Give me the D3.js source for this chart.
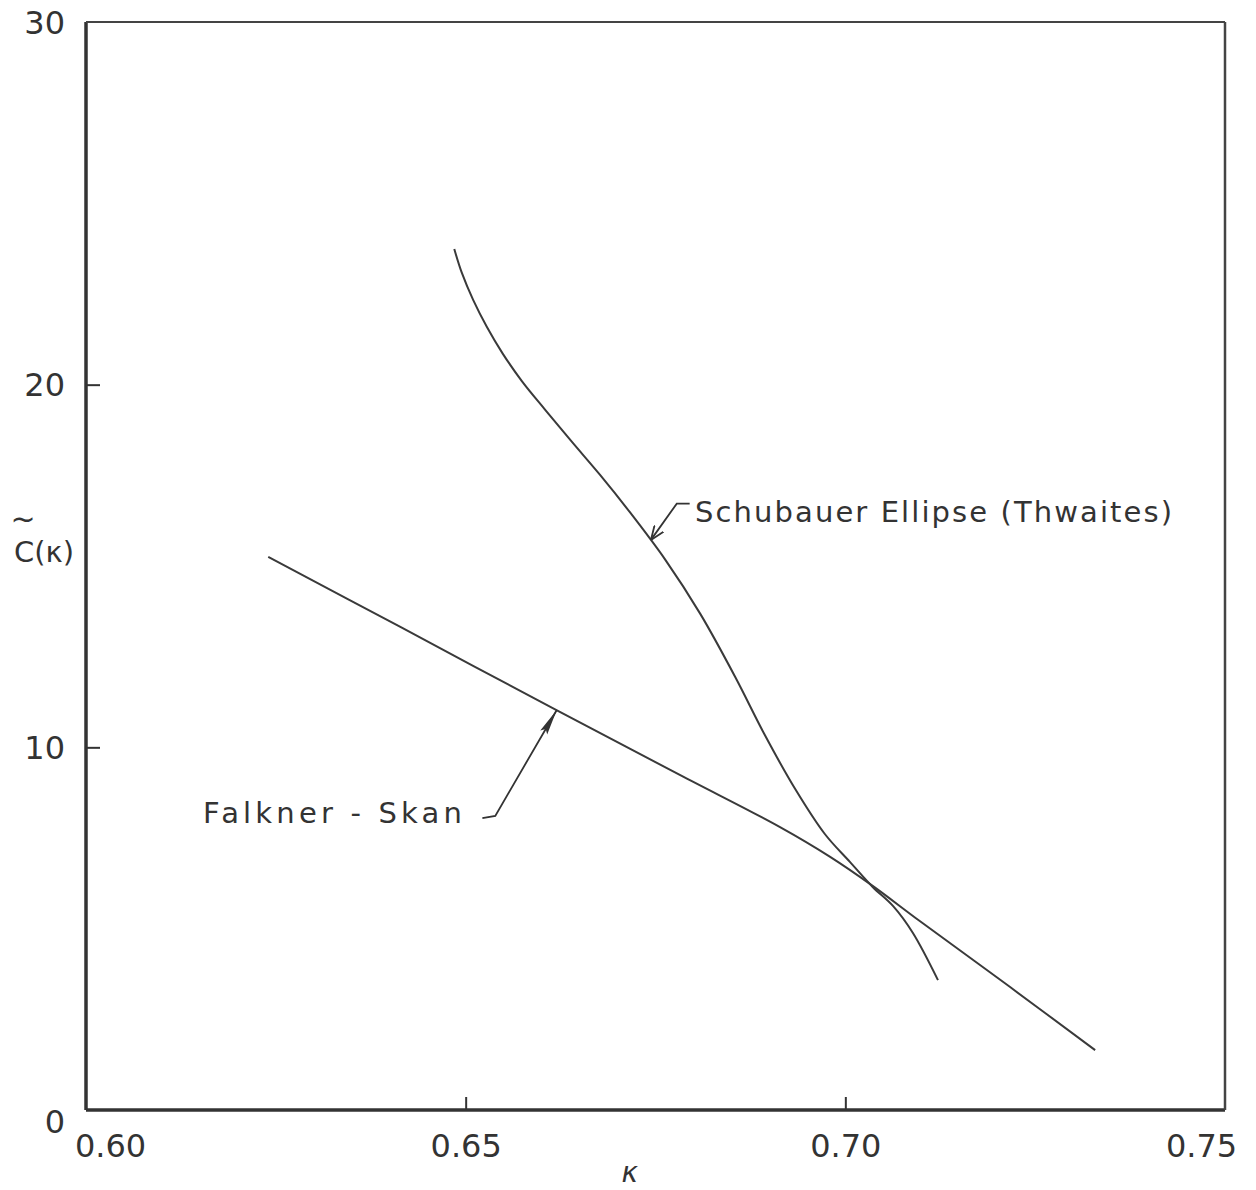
<!DOCTYPE html>
<html>
<head>
<meta charset="utf-8">
<script src="https://cdn.jsdelivr.net/npm/d3@7"></script>
<style>
  body { margin: 0; background: #fff; }
  text { font-family: "DejaVu Sans", sans-serif; fill: #333; }
</style>
</head>
<body>
<div id="chart"></div>
<script>
// axis ticks
let kappaTicks = [0.60, 0.65, 0.70, 0.75];
let cTicks = [0, 10, 20, 30];

// Falkner-Skan curve
let fsKappa = [0.6240, 0.6414, 0.6619, 0.6782, 0.6914, 0.6980, 0.7036, 0.7098, 0.7217, 0.7329];
let fsC     = [15.25, 13.32, 11.03, 9.24, 7.80, 6.98, 6.18, 5.21, 3.39, 1.65];

// Schubauer ellipse (Thwaites)
let seKappa = [0.6485, 0.6495, 0.6510, 0.6528, 0.6549, 0.6574, 0.6605, 0.6640, 0.6677, 0.6716,
               0.6763, 0.6809, 0.6855, 0.6894, 0.6934, 0.6973, 0.7006, 0.7036, 0.7063, 0.7089, 0.7122];
let seC     = [23.74, 23.08, 22.33, 21.59, 20.85, 20.10, 19.30, 18.42, 17.51, 16.49,
               15.17, 13.68, 11.94, 10.34, 8.85, 7.61, 6.84, 6.15, 5.62, 4.88, 3.58];

let drawChart = function(){
    let W = 1256, H = 1190;
    let margin = {top: 22, right: 31, bottom: 80, left: 86};
    let width = W - margin.left - margin.right,
        height = H - margin.top - margin.bottom;

    let x = d3.scaleLinear().domain([0.60, 0.75]).range([0, width]);
    let y = d3.scaleLinear().domain([0, 30]).range([height, 0]);

    let svg = d3.select('#chart').append('svg')
        .attr('width', W).attr('height', H)
      .append('g')
        .attr('transform', 'translate(' + margin.left + ',' + margin.top + ')');

    let defs = svg.append('defs');
    defs.append('marker').attr('id', 'filled')
        .attr('viewBox', '0 0 26 9').attr('refX', 26).attr('refY', 4.5)
        .attr('markerWidth', 26).attr('markerHeight', 9).attr('markerUnits', 'userSpaceOnUse')
        .attr('orient', 'auto')
      .append('path').attr('d', 'M0,0.5 L26,4.5 L0,8.5 L4,4.5 Z').attr('fill', '#333');
    defs.append('marker').attr('id', 'open')
        .attr('viewBox', '0 0 14 12').attr('refX', 14).attr('refY', 6)
        .attr('markerWidth', 14).attr('markerHeight', 12).attr('markerUnits', 'userSpaceOnUse')
        .attr('orient', 'auto')
      .append('path').attr('d', 'M0,0.5 L14,6 L0,11.5').attr('fill', 'none')
        .attr('stroke', '#333').attr('stroke-width', 1.8);

    // axes, ticks pointing inward
    let xAxis = svg.append('g')
        .attr('transform', 'translate(0,' + height + ')')
        .call(d3.axisBottom(x).tickValues(kappaTicks).tickSizeInner(-13).tickSizeOuter(0)
              .tickPadding(24).tickFormat(d3.format('.2f')));
    let yAxis = svg.append('g')
        .call(d3.axisLeft(y).tickValues(cTicks).tickSizeInner(-14).tickSizeOuter(0)
              .tickPadding(21).tickFormat(d3.format('d')));

    [xAxis, yAxis].forEach(function(ax){
        ax.select('.domain').remove();
        ax.selectAll('.tick line').attr('stroke', '#333').attr('stroke-width', 2);
        ax.selectAll('.tick text').attr('font-size', 32).attr('fill', '#333')
            .attr('font-family', '"DejaVu Sans", sans-serif');
    });
    // hand-lettered label nudges at the corners
    xAxis.selectAll('.tick text').attr('dx', function(d){
        return d === 0.60 ? 24 : (d === 0.75 ? -24 : 0);
    });
    yAxis.selectAll('.tick text').attr('dy', function(d){ return d === 0 ? '0.70em' : '0.35em'; });
    yAxis.selectAll('.tick').filter(function(d){ return d === 0 || d === 30; }).select('line').remove();
    xAxis.selectAll('.tick').filter(function(d){ return d === 0.60 || d === 0.75; }).select('line').remove();

    // frame
    svg.append('line').attr('x1', 0).attr('x2', 0).attr('y1', 0).attr('y2', height)
        .attr('stroke', '#333').attr('stroke-width', 3.5);
    svg.append('line').attr('x1', 0).attr('x2', width).attr('y1', height).attr('y2', height)
        .attr('stroke', '#333').attr('stroke-width', 3.5);
    svg.append('line').attr('x1', 0).attr('x2', width).attr('y1', 0).attr('y2', 0)
        .attr('stroke', '#444').attr('stroke-width', 2);
    svg.append('line').attr('x1', width).attr('x2', width).attr('y1', 0).attr('y2', height)
        .attr('stroke', '#444').attr('stroke-width', 2.5);

    let line = d3.line()
        .x(function(d){ return x(d[0]); })
        .y(function(d){ return y(d[1]); })
        .curve(d3.curveCatmullRom.alpha(0.5));

    svg.append('path')
        .datum(d3.zip(fsKappa, fsC))
        .attr('d', line).attr('fill', 'none')
        .attr('stroke', '#3a3a3a').attr('stroke-width', 2);

    svg.append('path')
        .datum(d3.zip(seKappa, seC))
        .attr('d', line).attr('fill', 'none')
        .attr('stroke', '#3a3a3a').attr('stroke-width', 2);

    // annotations
    let leader = d3.line().x(function(d){ return x(d[0]); }).y(function(d){ return y(d[1]); });

    svg.append('path')
        .datum([[0.6795, 16.72], [0.6778, 16.72], [0.6744, 15.72]])
        .attr('d', leader).attr('fill', 'none')
        .attr('stroke', '#333').attr('stroke-width', 1.8)
        .attr('marker-end', 'url(#open)');
    svg.append('text')
        .attr('x', x(0.6802)).attr('y', y(16.2))
        .attr('font-size', 29).attr('textLength', 477).attr('lengthAdjust', 'spacing')
        .text('Schubauer Ellipse (Thwaites)');

    svg.append('path')
        .datum([[0.6522, 8.05], [0.6539, 8.11], [0.6620, 11.03]])
        .attr('d', leader).attr('fill', 'none')
        .attr('stroke', '#333').attr('stroke-width', 1.8)
        .attr('marker-end', 'url(#filled)');
    svg.append('text')
        .attr('x', x(0.6154)).attr('y', y(7.91))
        .attr('font-size', 29).attr('textLength', 259).attr('lengthAdjust', 'spacing')
        .text('Falkner - Skan');

    // axis titles
    svg.append('text')
        .attr('x', x(0.6716)).attr('y', height + 72)
        .attr('text-anchor', 'middle').attr('font-size', 28).attr('font-style', 'italic')
        .text('κ');
    svg.append('text')
        .attr('x', -42).attr('y', y(15.1))
        .attr('text-anchor', 'middle').attr('font-size', 29)
        .text('C(κ)');
    svg.append('text')
        .attr('x', -63).attr('y', y(15.1) - 33)
        .attr('text-anchor', 'middle').attr('font-size', 30)
        .text('~');
};

drawChart();
</script>
</body>
</html>
